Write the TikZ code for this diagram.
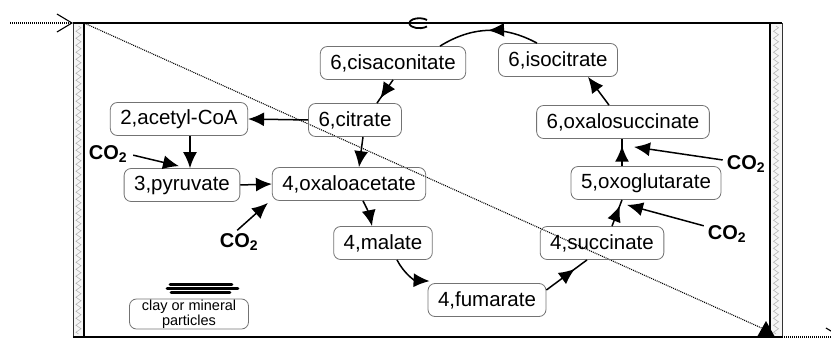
\documentclass[tikz,border=0pt]{standalone}
\usepackage{fontspec}
\setmainfont{Liberation Sans}
\usetikzlibrary{arrows.meta, decorations.markings, decorations.pathmorphing}

\begin{document}
\begin{tikzpicture}[
    x=1pt, y=-1pt,
    met/.style={draw=black!55, line width=0.8pt, rounded corners=7pt, minimum height=33pt, inner xsep=10pt, font=\fontsize{20.5}{24}\selectfont},
    gas/.style={inner sep=1pt, font=\fontsize{20}{24}\selectfont\bfseries},
    flow/.style={line width=1.5pt, -{Latex[length=16pt, width=14pt]}},
    midflow/.style={line width=1.5pt, decoration={markings, mark=at position #1 with {\arrow{Latex[length=16pt, width=14pt]}}}, postaction={decorate}},
    wall/.style={fill=gray!8, draw=black!80, line width=0.8pt},
    stream/.style={line width=1.1pt, dash pattern=on 1pt off 1pt},
    barb/.style={-{Straight Barb[length=15pt, width=18pt, line width=1.1pt]}}
]
\clip (0,0) rectangle (831,340);

% Vessel: hatched side walls, top and bottom
\draw[wall] (73,23) rectangle (84,337);
\draw[wall] (770,23) rectangle (782,337);
\draw[gray!60, line width=0.6pt, decorate, decoration={zigzag, segment length=7pt, amplitude=2.5pt}] (78.5,26) -- (78.5,334);
\draw[gray!60, line width=0.6pt, decorate, decoration={zigzag, segment length=7pt, amplitude=2.5pt}] (776,26) -- (776,334);
\draw[line width=1.8pt] (84,23) -- (84,337);
\draw[line width=1.8pt] (770,23) -- (770,337);
\draw[line width=1.8pt] (73,23) -- (782,23);
\draw[line width=1.8pt] (73,337) -- (782,337);
\draw[line width=1.8pt] (427,20) arc[start angle=40, end angle=320, x radius=10pt, y radius=5pt];

% Through-flow
\coordinate (inlet) at (10,23);
\coordinate (wallin) at (73,23);
\coordinate (corner) at (84,23);
\coordinate (sink) at (766,330);
\coordinate (wallout) at (782,337);
\coordinate (outlet) at (842,337);
\draw[stream, barb] (inlet) -- (wallin);
\draw[stream] (corner) -- (sink);
\fill (757,337) -- (766,321) -- (775,337) -- cycle;
\draw[stream, barb] (wallout) -- (outlet);

% Metabolites
\node[met] (cis) at (393,63) {6,cisaconitate};
\node[met] (iso) at (558,60) {6,isocitrate};
\node[met] (cit) at (355,120) {6,citrate};
\node[met] (oxs) at (623,122) {6,oxalosuccinate};
\node[met] (acc) at (179,119) {2,acetyl-CoA};
\node[met] (pyr) at (182,185) {3,pyruvate};
\node[met] (oaa) at (349,184) {4,oxaloacetate};
\node[met] (oxg) at (646,183) {5,oxoglutarate};
\node[met] (mal) at (383,243) {4,malate};
\node[met] (fum) at (487,300) {4,fumarate};
\node[met] (suc) at (602,243) {4,succinate};

% CO2 inputs
\node[gas] (co2a) at (108,154) {CO\textsubscript{2}};
\node[gas] (co2b) at (239,242) {CO\textsubscript{2}};
\node[gas] (co2c) at (746,164) {CO\textsubscript{2}};
\node[gas] (co2d) at (727,234) {CO\textsubscript{2}};

% Clay particles
\draw[line width=2.7pt, line cap=round] (170,284.5) -- (232,284.5);
\draw[line width=2.7pt, line cap=round] (167,288.5) -- (238,288.5);
\draw[line width=2.7pt, line cap=round] (171,292.5) -- (230,292.5);
\node[met, minimum height=30pt, minimum width=119pt, inner sep=1pt, align=center, font=\fontsize{14.5}{14.5}\selectfont] (clay) at (189,314) {clay or mineral\\particles};

% Reactions
\draw[midflow=0.5] ([xshift=-21pt]iso.north) to[bend right=30] ([xshift=47pt]cis.north);
\draw[midflow=0.8] (cis.south) -- ([xshift=22pt]cit.north);
\draw[flow] ([xshift=8pt]cit.south) -- ([xshift=10pt]oaa.north);
\draw[flow] (cit.west) -- (acc.east);
\draw[flow] ([xshift=11pt]acc.south) -- ([xshift=8pt]pyr.north);
\draw[flow, shorten <=5pt] (co2a.east) -- ([xshift=-3pt, yshift=2pt]pyr.north);
\draw[flow] (pyr.east) -- (oaa.west);
\draw[flow, shorten <=3pt] ([xshift=-4pt]co2b.north) -- ([xshift=-4pt, yshift=-2pt]oaa.south west);
\draw[flow] ([xshift=14pt]oaa.south) to[bend left=8] ([xshift=-11pt]mal.north);
\draw[flow] ([xshift=14pt]mal.south) to[bend right=30] ([xshift=2pt, yshift=2pt]fum.north west);
\draw[midflow=0.7] ([yshift=10pt]fum.east) -- ([xshift=-15pt]suc.south);
\draw[midflow=0.78] ([xshift=10pt]suc.north) -- ([xshift=-24pt]oxg.south);
\draw[flow, shorten <=3pt] (co2d.160) -- ([xshift=-19pt, yshift=-5pt]oxg.south);
\draw[midflow=0.75] ([xshift=-24pt]oxg.north) -- ([xshift=-1pt]oxs.south);
\draw[flow, shorten <=3pt] (co2c.170) -- ([xshift=11pt, yshift=-8pt]oxs.south);
\draw[flow] ([xshift=-14pt]oxs.north) -- ([xshift=30pt]iso.south);

\end{tikzpicture}
\end{document}
